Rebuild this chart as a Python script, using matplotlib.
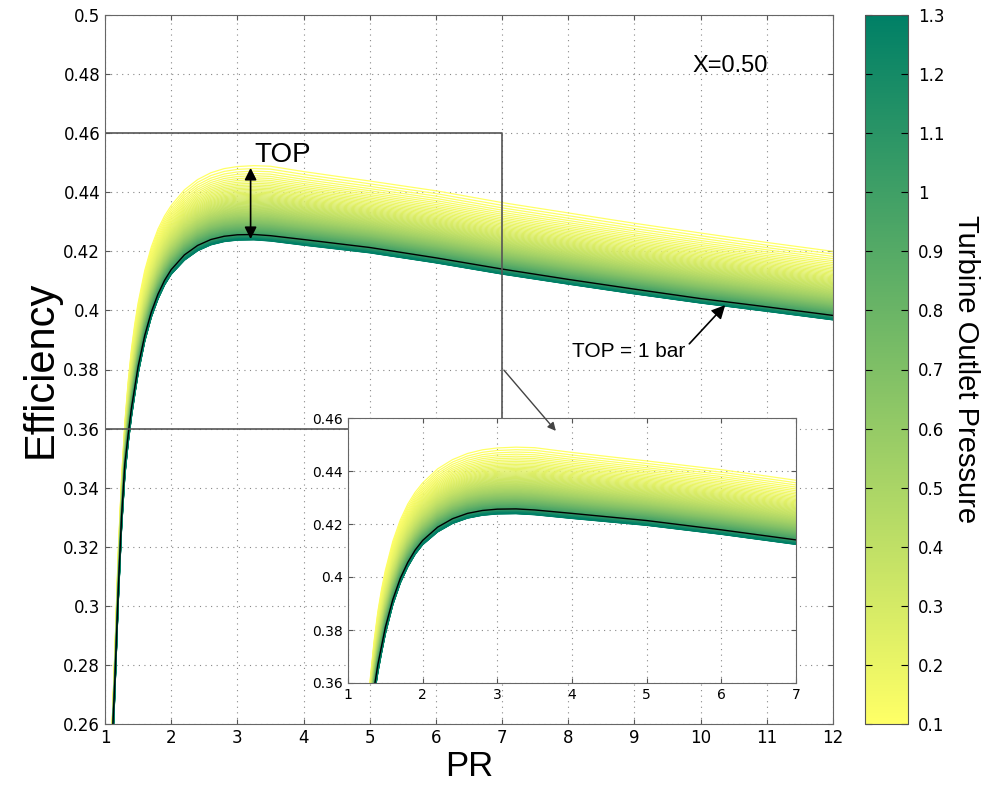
import numpy as np
import matplotlib
matplotlib.use('Agg')
import matplotlib.pyplot as plt
from matplotlib.patches import FancyArrowPatch
from matplotlib.colors import Normalize
from matplotlib.cm import ScalarMappable

# pressure ratio grid
pr = [1.1, 1.15, 1.2, 1.25, 1.3, 1.35, 1.4, 1.45, 1.5, 1.6, 1.7, 1.8, 1.9, 2.0,
      2.2, 2.4, 2.6, 2.8, 3.0, 3.25, 3.5, 4, 5, 6, 7, 8, 9, 10, 11, 12]

# efficiency for three turbine outlet pressures
eff_top_01 = [0.255, 0.285, 0.318, 0.343, 0.362, 0.376, 0.387, 0.3955, 0.4025,
              0.4135, 0.4215, 0.4275, 0.4320, 0.4355, 0.4408, 0.4443, 0.4466,
              0.4480, 0.4487, 0.4490, 0.4488, 0.4470, 0.4438, 0.4405, 0.4365,
              0.4330, 0.4295, 0.4262, 0.4230, 0.4200]
eff_top_10 = [0.250, 0.275, 0.305, 0.330, 0.348, 0.358, 0.367, 0.374, 0.381,
              0.3915, 0.3995, 0.4055, 0.4102, 0.4138, 0.4188, 0.4220, 0.4240,
              0.4251, 0.4256, 0.4257, 0.4253, 0.4240, 0.4213, 0.4178, 0.4140,
              0.4105, 0.4072, 0.4040, 0.4012, 0.3983]
eff_top_13 = [0.243, 0.271, 0.301, 0.326, 0.344, 0.355, 0.364, 0.3715, 0.3785,
              0.3895, 0.3977, 0.4038, 0.4086, 0.4122, 0.4170, 0.4202, 0.4222,
              0.4233, 0.4238, 0.4239, 0.4235, 0.4221, 0.4195, 0.4161, 0.4123,
              0.4089, 0.4056, 0.4025, 0.3997, 0.3968]

top_min, top_max, top_step = 0.1, 1.3, 0.01
cbar_ticks = [0.1, 0.2, 0.3, 0.4, 0.5, 0.6, 0.7, 0.8, 0.9, 1.0, 1.1, 1.2, 1.3]
yticks_main = [0.26, 0.28, 0.3, 0.32, 0.34, 0.36, 0.38, 0.4, 0.42, 0.44, 0.46, 0.48, 0.5]
yticks_ins = [0.36, 0.38, 0.4, 0.42, 0.44, 0.46]

pr = np.array(pr)
e01 = np.array(eff_top_01)
e10 = np.array(eff_top_10)
e13 = np.array(eff_top_13)
tops = np.arange(top_min, top_max + 1e-9, top_step)

cmap = plt.get_cmap('summer_r')
norm = Normalize(top_min, top_max)


def curve(t):
    # spread between the read curves on a log scale of TOP
    if t <= 1.0:
        w = np.log(t / 0.1) / np.log(10)
        return e01 + w * (e10 - e01)
    w = np.log(t) / np.log(1.3)
    return e10 + w * (e13 - e10)


def draw_family(a):
    for t in tops:
        a.plot(pr, curve(t), color=cmap(norm(t)), lw=0.9)
    a.plot(pr, e10, color='black', lw=1.0)


def style(a, fs):
    a.grid(True, linestyle=(0, (1, 4)), color='#888888', lw=0.8)
    a.tick_params(direction='in', top=True, right=True, labelsize=fs, color='#555555')
    for s in a.spines.values():
        s.set_color('#666666')


fig = plt.figure(figsize=(9.89, 7.89), dpi=100)
ax = fig.add_axes([105/989, 1 - 724/789, 728/989, 709/789])
draw_family(ax)
ax.set_xlim(1, 12)
ax.set_ylim(0.26, 0.5)
ax.set_xticks(range(1, 13))
ax.set_yticks(yticks_main)
ax.set_yticklabels(['%g' % v for v in yticks_main])
style(ax, 12)
ax.set_xlabel('PR', fontsize=25, family='Liberation Sans', labelpad=2)
ax.set_ylabel('Efficiency', fontsize=30, family='Liberation Sans', labelpad=2)

# zoom box
ax.plot([1, 7, 7], [0.46, 0.46, 0.36], color='#555555', lw=1.2)
ax.plot([1, 7], [0.36, 0.36], color='#555555', lw=1.2)

ax.text(9.88, 0.4827, 'X=0.50', fontsize=17, family='Liberation Sans', va='center')
ax.text(3.25, 0.4525, 'TOP', fontsize=20, family='Liberation Sans', va='center')
ax.annotate('', xy=(3.2, 0.4492), xytext=(3.2, 0.4232),
            arrowprops=dict(arrowstyle='<|-|>', color='black', lw=1.2, mutation_scale=18))
ax.text(8.05, 0.386, 'TOP = 1 bar', fontsize=15, family='Liberation Sans', va='center')
ax.annotate('', xy=(10.4, 0.4025), xytext=(9.8, 0.388),
            arrowprops=dict(arrowstyle='-|>', color='black', lw=1.2, mutation_scale=20))

# inset
axins = fig.add_axes([348/989, 1 - 683/789, 448/989, 265/789])
draw_family(axins)
axins.set_xlim(1, 7)
axins.set_ylim(0.36, 0.46)
axins.set_xticks(range(1, 8))
axins.set_yticks(yticks_ins)
axins.set_yticklabels(['%g' % v for v in yticks_ins])
style(axins, 10)

arr = FancyArrowPatch((7.0, 0.3805), (7.84, 0.3585), transform=ax.transData,
                      arrowstyle='-|>', mutation_scale=12, color='#444444', lw=1.0, zorder=5)
fig.add_artist(arr)

# colorbar
cax = fig.add_axes([865/989, 1 - 724/789, 43/989, 709/789])
sm = ScalarMappable(norm=norm, cmap=cmap)
cb = fig.colorbar(sm, cax=cax, ticks=cbar_ticks)
cb.ax.set_yticklabels(['%g' % v for v in cbar_ticks])
cb.ax.tick_params(direction='in', left=True, right=True, labelsize=12, length=5, pad=7)
cb.outline.set_edgecolor('#555555')
cb.set_label('Turbine Outlet Pressure', fontsize=21, family='Liberation Sans',
             rotation=270, labelpad=26)

fig.savefig('out.png', dpi=100)
